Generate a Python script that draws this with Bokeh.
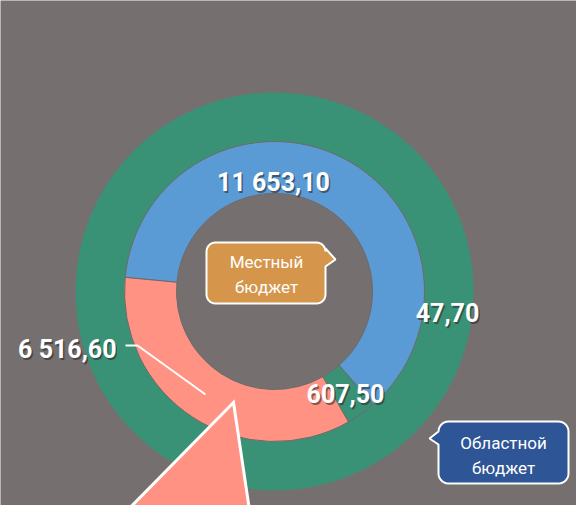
import numpy as np
from bokeh.plotting import figure
from bokeh.models import Range1d
from bokeh.core.properties import value
from bokeh.embed import file_html
from bokeh.resources import INLINE

# ---- data ----
inner_values = [11653.10, 607.50, 6516.60]
inner_labels = ["11 653,10", "607,50", "6 516,60"]
inner_colors = ["#5b9bd5", "#3a9276", "#ff9282"]
outer_values = [47.70]
outer_labels = ["47,70"]
outer_colors = ["#3a9276"]
callout_texts = ["Местный\nбюджет", "Областной\nбюджет"]

# ---- style / layout ----
BG = "#75706f"
W, H = 576, 505
FONT = "Roboto"


def P(X, Y):
    """image pixel -> data coords"""
    return X, H - Y


p = figure(width=W, height=H, x_range=Range1d(0, W), y_range=Range1d(0, H),
           x_axis_type=None, y_axis_type=None, toolbar_location=None,
           output_backend="svg", min_border=0,
           background_fill_color=BG, border_fill_color=BG, outline_line_color=None)
p.grid.visible = False

cx, cy = P(274, 291)
R_HOLE, R_MID, R_OUT = 98, 150, 199

# outer ring (single series -> full circle)
tot_o = sum(outer_values)
a0 = np.pi / 2
o_start, o_end = [], []
for v in outer_values:
    o_start.append(a0)
    o_end.append(a0 - 2 * np.pi * v / tot_o + 1e-6)
    a0 -= 2 * np.pi * v / tot_o
p.annular_wedge(x=[cx] * len(outer_values), y=[cy] * len(outer_values),
                inner_radius=R_MID, outer_radius=R_OUT,
                start_angle=o_start, end_angle=o_end, direction="clock",
                fill_color=outer_colors, line_color=None)

# inner ring
tot = sum(inner_values)
start = np.deg2rad(174.6)
s_list, e_list = [], []
for v in inner_values:
    s_list.append(start)
    start = start - 2 * np.pi * v / tot
    e_list.append(start)
p.annular_wedge(x=[cx] * 3, y=[cy] * 3, inner_radius=R_HOLE, outer_radius=R_MID,
                start_angle=s_list, end_angle=e_list, direction="clock",
                fill_color=inner_colors, line_color="#6e6a69", line_width=1)

# big callout triangle pointer (salmon with white border)
tri = [P(233, 402), P(107, 530), P(252, 530)]
p.patch(x=[t[0] for t in tri], y=[t[1] for t in tri], fill_color="#ff9282",
        line_color="white", line_width=3, line_join="miter")

# leader line for 6 516,60
ll = [P(125, 345), P(137, 345), P(205, 394)]
p.line(x=[t[0] for t in ll], y=[t[1] for t in ll], line_color="white", line_width=2)

# value labels (positions in image px)
lab_pos = [(273, 182, "center"), (345, 393, "center"), (116, 349, "right")]
out_pos = [(447, 312, "center")]
for (X, Y, al), t in list(zip(lab_pos, inner_labels)) + list(zip(out_pos, outer_labels)):
    x, y = P(X, Y)
    p.text(x=[x + 1.5], y=[y - 1.5], text=[t], text_align=al, text_baseline="middle",
           text_font=value(FONT), text_font_style="bold", text_font_size="25px",
           text_color="#222222", text_alpha=0.55)
    p.text(x=[x], y=[y], text=[t], text_align=al, text_baseline="middle",
           text_font=value(FONT), text_font_style="bold", text_font_size="25px",
           text_color="white")


def callout(x0, y0, x1, y1, r, side, py0, py1, apex):
    """rounded rect (image px) with a pointer on `side`; returns data coords"""
    pts = []
    def arc(cxx, cyy, a_from, a_to):
        for a in np.linspace(a_from, a_to, 8):
            pts.append((cxx + r * np.cos(a), cyy + r * np.sin(a)))
    arc(x0 + r, y0 + r, np.pi, 1.5 * np.pi)
    arc(x1 - r, y0 + r, 1.5 * np.pi, 2 * np.pi)
    if side == "right":
        pts += [(x1, py0), apex, (x1, py1)]
    arc(x1 - r, y1 - r, 0, 0.5 * np.pi)
    arc(x0 + r, y1 - r, 0.5 * np.pi, np.pi)
    if side == "left":
        pts += [(x0, py1), apex, (x0, py0)]
    d = [P(a, b) for a, b in pts]
    return [q[0] for q in d], [q[1] for q in d]


boxes = [
    dict(x0=206, y0=242, x1=325, y1=303, r=9, side="right", py0=248, py1=266,
         apex=(335, 259), color="#d5954a", tx=266, ty=[261, 286]),
    dict(x0=438, y0=421, x1=568, y1=483, r=10, side="left", py0=431, py1=444,
         apex=(429, 438), color="#2e5596", tx=503, ty=[442, 467]),
]
for b, txt in zip(boxes, callout_texts):
    xs, ys = callout(b["x0"], b["y0"], b["x1"], b["y1"], b["r"], b["side"],
                     b["py0"], b["py1"], b["apex"])
    p.patch(x=xs, y=ys, fill_color=b["color"], line_color="white", line_width=2)
    for line, Y in zip(txt.split("\n"), b["ty"]):
        x, y = P(b["tx"], Y)
        p.text(x=[x], y=[y], text=[line], text_align="center", text_baseline="middle",
               text_font=value(FONT), text_font_size="17px", text_color="white")

html = file_html(p, INLINE)
html = html.replace("<body>", '<body style="margin:0;background-color:%s;">' % BG, 1)
open("out.html", "w").write(html)
